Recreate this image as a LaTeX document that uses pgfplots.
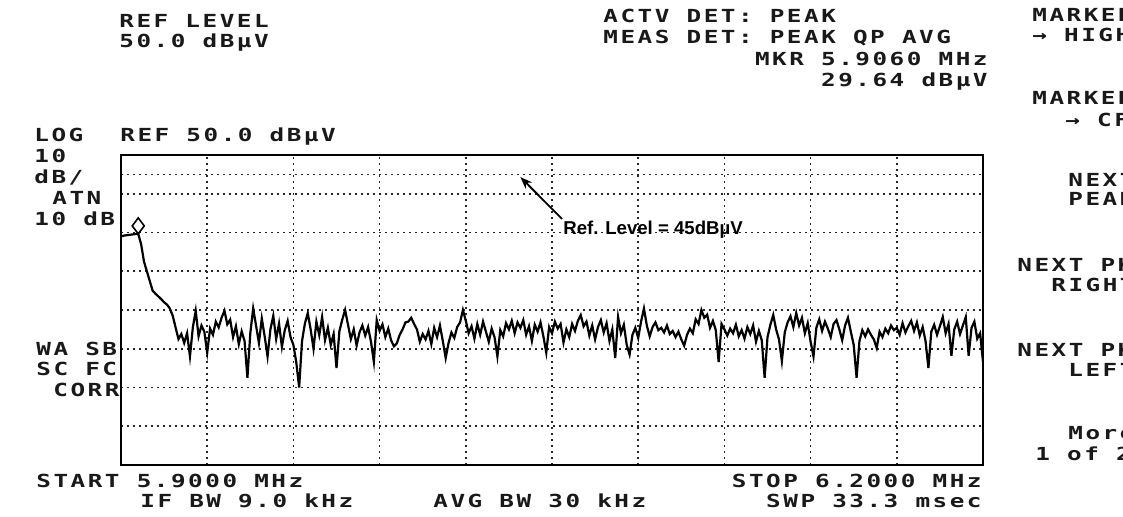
\documentclass[border=0pt]{standalone}
\usepackage{fontspec}
\usepackage{pgfplots}
\usepackage{pgfplotstable}
\pgfplotsset{compat=1.18}
\usetikzlibrary{arrows.meta}
\setmainfont{Liberation Sans}
\newfontfamily\hpfont{DejaVu Sans Mono}[FakeStretch=1.35,LetterSpace=14]

% trace: frequency in kHz, level in dBuV
\pgfplotstableread{
f level
5900 29.0
5901 29.2
5902 29.3
5903 29.4
5904 29.5
5905 29.6
5906 29.64
5907 27.0
5908 22.5
5909 20.0
5910 17.5
5911 15.0
5912 14.2
5913 13.5
5914 12.8
5915 12.0
5916 11.4
5917 10.4
5918 8.5
5919 5.5
5920 2.5
5921 3.8
5922 1.5
5923 4.0
5924 -2.0
5925 5.5
5926 9.8
5927 3.2
5928 6.0
5929 4.4
5930 -1.0
5931 5.2
5932 3.6
5933 7.0
5934 5.5
5935 8.0
5936 9.8
5937 6.3
5938 7.5
5939 3.0
5940 5.8
5941 1.2
5942 4.5
5943 2.0
5944 -7.5
5945 4.0
5946 10.4
5947 6.0
5948 1.5
5949 7.8
5950 3.2
5951 -2.0
5952 5.0
5953 8.5
5954 2.5
5955 6.5
5956 0.5
5957 4.8
5958 7.2
5959 3.0
5960 1.0
5961 -3.5
5962 -10.0
5963 2.0
5964 6.5
5965 9.2
5966 5.0
5967 0.0
5968 7.0
5969 3.5
5970 8.2
5971 2.2
5972 5.4
5973 1.0
5974 3.8
5975 -5.0
5976 4.5
5977 7.5
5978 10.0
5979 6.2
5980 2.5
5981 5.0
5982 0.8
5983 4.2
5984 6.0
5985 3.4
5986 5.6
5987 1.8
5988 -3.4
5989 7.4
5990 4.6
5991 6.3
5992 3.0
5993 5.2
5994 2.2
5995 0.6
5996 1.4
5997 3.6
5998 5.0
5999 6.8
6000 7.0
6001 8.0
6002 6.4
6003 5.0
6004 1.8
6005 3.8
6006 2.4
6007 4.6
6008 1.2
6009 5.4
6010 3.0
6011 6.0
6012 2.0
6013 -2.4
6014 1.5
6015 4.2
6016 2.8
6017 5.6
6018 6.8
6019 10.0
6020 7.2
6021 4.0
6022 5.8
6023 2.6
6024 6.4
6025 3.6
6026 7.0
6027 4.4
6028 1.8
6029 5.2
6030 3.0
6031 -2.0
6032 4.8
6033 3.2
6034 6.6
6035 5.0
6036 7.2
6037 4.0
6038 6.8
6039 5.4
6040 7.4
6041 3.6
6042 5.8
6043 2.0
6044 6.2
6045 4.4
6046 6.8
6047 3.2
6048 -1.0
6049 5.6
6050 4.0
6051 7.0
6052 5.2
6053 6.4
6054 1.6
6055 5.0
6056 3.0
6057 6.4
6058 4.6
6059 7.2
6060 8.7
6061 5.8
6062 7.0
6063 3.4
6064 6.0
6065 2.4
6066 5.6
6067 7.4
6068 4.2
6069 6.6
6070 2.0
6071 5.0
6072 -2.4
6073 8.2
6074 4.0
6075 6.2
6076 1.0
6077 -1.5
6078 3.6
6079 5.4
6080 2.8
6081 7.0
6082 10.4
6083 6.0
6084 3.2
6085 5.6
6086 6.8
6087 4.8
6088 5.4
6089 4.2
6090 6.0
6091 3.8
6092 4.6
6093 3.0
6094 4.4
6095 2.4
6096 0.8
6097 3.6
6098 5.2
6099 4.0
6100 7.6
6101 6.4
6102 10.0
6103 8.0
6104 8.8
6105 5.4
6106 7.2
6107 4.8
6108 -3.4
6109 6.4
6110 5.0
6111 3.4
6112 5.2
6113 4.0
6114 6.2
6115 3.2
6116 4.8
6117 2.6
6118 5.6
6119 3.8
6120 6.0
6121 1.8
6122 4.6
6123 2.2
6124 -7.5
6125 3.0
6126 6.2
6127 8.7
6128 5.0
6129 2.4
6130 -3.2
6131 4.2
6132 6.8
6133 8.4
6134 5.6
6135 9.2
6136 6.0
6137 8.0
6138 4.0
6139 6.6
6140 1.8
6141 -2.0
6142 5.4
6143 7.6
6144 4.6
6145 7.0
6146 5.2
6147 3.0
6148 6.4
6149 7.4
6150 5.0
6151 2.2
6152 6.0
6153 8.0
6154 4.4
6155 1.0
6156 -7.5
6157 2.0
6158 4.8
6159 3.2
6160 5.0
6161 3.6
6162 2.4
6163 0.2
6164 4.4
6165 3.0
6166 5.2
6167 4.0
6168 6.0
6169 4.8
6170 5.4
6171 3.6
6172 6.6
6173 4.2
6174 5.8
6175 7.2
6176 4.6
6177 6.8
6178 3.4
6179 5.6
6180 2.0
6181 -5.0
6182 4.4
6183 6.2
6184 3.6
6185 5.8
6186 8.2
6187 4.0
6188 6.4
6189 -1.8
6190 5.0
6191 7.0
6192 3.8
6193 6.0
6194 8.2
6195 -1.8
6196 5.4
6197 7.0
6198 2.6
6199 4.0
6200 -3.4
}\trace

\begin{document}
\begin{tikzpicture}
\useasboundingbox (0,0) rectangle (561.5pt,258.5pt);

\begin{axis}[
    at={(60.5pt,26pt)}, anchor=south west,
    scale only axis, width=431pt, height=155pt,
    xmin=5900, xmax=6200, ymin=-30, ymax=50,
    xtick={5930,5960,5990,6020,6050,6080,6110,6140,6170},
    ytick={-20,-10,0,10,20,30,40,45},
    xticklabels={}, yticklabels={},
    major tick length=0pt,
    grid=major,
    major grid style={black!85, line width=0.85pt, dash pattern=on 0.9pt off 2.1pt},
    axis line style={line width=1.3pt},
]

\addplot[black, line width=1.1pt, mark=none] table[x=f, y=level] {\trace};

% marker on the highest peak
\addplot[black, only marks, mark=diamond, mark size=4pt,
    mark options={yshift=4pt, line width=0.8pt, fill=white}] coordinates {(5906,29.64)};

\draw[-{Stealth[length=6pt,width=4.5pt]}, line width=0.9pt]
    (axis cs:6053.5,33.5) -- (axis cs:6039,44.3);
\node[anchor=west, inner sep=0pt, font=\bfseries\fontsize{9.3}{11}\selectfont]
    at (axis cs:6053.8,30.6) {Ref. Level = 45dBµV};
\end{axis}

% screen annotations, placed in pixel units of the screenshot
\begin{scope}[x=0.5pt, y=-0.5pt, yshift=258.5pt,
    every node/.style={inner sep=0pt, anchor=base west, text=black!90,
        font=\hpfont\bfseries\fontsize{9}{10}\selectfont}]
\node at (119,28) {REF LEVEL};
\node at (119,48) {50.0 dBµV};

\node at (603,23) {ACTV DET: PEAK};
\node at (603,44) {MEAS DET: PEAK QP AVG};
\node[anchor=base east] at (988,66) {MKR 5.9060 MHz};
\node[anchor=base east] at (988,87) {29.64 dBµV};

\node at (1032,22) {MARKER};
\node at (1032,42) {→ HIGHEST};
\node at (1032,105) {MARKER};
\node at (1065,127) {→ CF};
\node at (1068,187) {NEXT};
\node at (1068,206) {PEAK};
\node at (1017,272) {NEXT PK};
\node at (1051,292) {RIGHT};
\node at (1017,357) {NEXT PK};
\node at (1068,377) {LEFT};
\node at (1068,440) {More};
\node at (1035,461) {1 of 2};

\node at (34,142) {LOG};
\node at (120,142) {REF 50.0 dBµV};
\node at (34,163) {10};
\node at (34,184) {dB/};
\node at (52,205) {ATN};
\node at (34,226) {10 dB};
\node at (36,356) {WA SB};
\node at (36,376) {SC FC};
\node at (53,397) {CORR};

\node at (36,488) {START 5.9000 MHz};
\node at (140,508) {IF BW 9.0 kHz};
\node at (433,508) {AVG BW 30 kHz};
\node[anchor=base east] at (982,488) {STOP 6.2000 MHz};
\node[anchor=base east] at (982,508) {SWP 33.3 msec};
\end{scope}
\end{tikzpicture}
\end{document}
